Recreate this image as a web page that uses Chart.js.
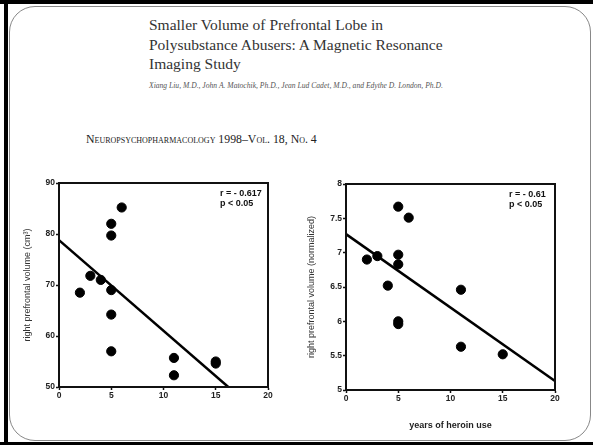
<!DOCTYPE html>
<html>
<head>
<meta charset="utf-8">
<script src="https://cdn.jsdelivr.net/npm/chart.js@4"></script>
<style>
  html, body { margin: 0; padding: 0; background: #fff; }
  #page { position: relative; width: 593px; height: 445px; overflow: hidden; background: #fff; }
  #blackTop { position: absolute; left: 0; top: 0; width: 593px; height: 4px; background: #000; }
  #blackLeft { position: absolute; left: 4px; top: 0; width: 4px; height: 445px; background: #000; }
  #blackBottom { position: absolute; left: 0; top: 442px; width: 593px; height: 3px; background: #000; }
  #panel { position: absolute; left: 9px; top: 6px; width: 580px; height: 433px; border: 1px solid #888; border-radius: 26px; }
  #title { position: absolute; left: 149px; top: 15px; font-family: "Liberation Serif", serif; font-size: 15.5px; line-height: 19.5px; color: #333; }
  #authors { position: absolute; left: 149px; top: 81px; font-family: "Liberation Serif", serif; font-style: italic; font-size: 7.6px; color: #555; }
  #journal { position: absolute; left: 86px; top: 132px; font-family: "Liberation Serif", serif; font-variant: small-caps; font-size: 11.8px; color: #222; }
  canvas { position: absolute; }
</style>
</head>
<body>
<div id="page">
  <div id="blackTop"></div>
  <div id="blackLeft"></div>
  <div id="blackBottom"></div>
  <div id="panel"></div>
  <div id="title">Smaller Volume of Prefrontal Lobe in<br>Polysubstance Abusers: A Magnetic Resonance<br>Imaging Study</div>
  <div id="authors">Xiang Liu, M.D., John A. Matochik, Ph.D., Jean Lud Cadet, M.D., and Edythe D. London, Ph.D.</div>
  <div id="journal">Neuropsychopharmacology 1998–Vol. 18, No. 4</div>
  <div style="position:absolute;left:0;top:170px;width:290px;height:250px;"><canvas id="leftChart"></canvas></div>
  <div style="position:absolute;left:293px;top:170px;width:300px;height:265px;"><canvas id="rightChart"></canvas></div>
</div>
<script>
// years of heroin use (x) for each subject
const leftYears = [2, 3, 4, 5, 5, 5, 5, 5, 6, 11, 11, 15, 15];
const leftVolume = [68.5, 71.8, 71, 82, 79.7, 69, 64.2, 57, 85.2, 55.7, 52.3, 55, 54.6];
const leftFitX = [0, 16.2];
const leftFitY = [78.8, 50];
const leftTicksX = [0, 5, 10, 15, 20];
const leftTicksY = [50, 60, 70, 80, 90];

const rightYears = [2, 3, 4, 5, 5, 5, 5, 5, 6, 11, 11, 15];
const rightVolume = [6.9, 6.95, 6.52, 7.67, 6.97, 6.83, 6.0, 5.96, 7.51, 6.46, 5.63, 5.52];
const rightFitX = [0, 20];
const rightFitY = [7.27, 5.13];
const rightTicksX = [0, 5, 10, 15, 20];
const rightTicksY = [5, 5.5, 6, 6.5, 7, 7.5, 8];

const tickFont = { family: 'Liberation Sans', size: 8.5, weight: 'bold' };

// draws the box around the plot and the r / p note
const boxPlugin = {
    id: 'boxNote',
    afterDraw(chart, args, opts) {
        const ctx = chart.ctx;
        const a = chart.chartArea;
        ctx.save();
        ctx.strokeStyle = '#111';
        ctx.lineWidth = 2;
        ctx.strokeRect(a.left, a.top, a.right - a.left, a.bottom - a.top);
        ctx.fillStyle = '#111';
        ctx.font = 'bold 9px "Liberation Sans"';
        ctx.textAlign = 'left';
        ctx.fillText(opts.r, a.right - opts.dx, a.top + 13);
        ctx.fillText(opts.p, a.right - opts.dx, a.top + 23);
        ctx.restore();
    }
};

function makeChart(id, xs, ys, fitX, fitY, ticksX, ticksY, yLabel, xLabel, pad, yWidth, xHeight, titlePad, note) {
    const ctx = document.getElementById(id).getContext('2d');
    return new Chart(ctx, {
        type: 'scatter',
        data: {
            datasets: [
                {
                    data: xs.map((x, i) => ({ x: x, y: ys[i] })),
                    backgroundColor: '#000',
                    borderColor: '#000',
                    pointRadius: 4.6,
                    pointHoverRadius: 4.6
                },
                {
                    type: 'line',
                    data: fitX.map((x, i) => ({ x: x, y: fitY[i] })),
                    borderColor: '#000',
                    borderWidth: 2.5,
                    pointRadius: 0,
                    fill: false
                }
            ]
        },
        options: {
            responsive: true,
            maintainAspectRatio: false,
            animation: false,
            layout: { padding: pad },
            scales: {
                x: {
                    type: 'linear',
                    min: ticksX[0],
                    max: ticksX[ticksX.length - 1],
                    afterBuildTicks: s => { s.ticks = ticksX.map(v => ({ value: v })); },
                    afterFit: s => { s.height = xHeight; },
                    grid: { drawOnChartArea: false, color: '#111', tickLength: 3, tickWidth: 1.5 },
                    border: { color: '#111', width: 2 },
                    ticks: { color: '#222', font: tickFont, padding: 1, callback: v => String(v) },
                    title: { display: !!xLabel, text: xLabel, color: '#222', font: { family: 'Liberation Sans', size: 9, weight: 'bold' }, padding: { top: 11 } }
                },
                y: {
                    type: 'linear',
                    min: ticksY[0],
                    max: ticksY[ticksY.length - 1],
                    afterBuildTicks: s => { s.ticks = ticksY.map(v => ({ value: v })); },
                    afterFit: s => { s.width = yWidth; },
                    grid: { drawOnChartArea: false, color: '#111', tickLength: 3, tickWidth: 1.5 },
                    border: { color: '#111', width: 2 },
                    ticks: { color: '#222', font: tickFont, padding: 1, callback: v => String(v) },
                    title: { display: true, text: yLabel, color: '#333', font: { family: 'Liberation Sans', size: 9 }, padding: { top: titlePad, bottom: 0 } }
                }
            },
            plugins: {
                legend: { display: false },
                tooltip: { enabled: false },
                boxNote: note
            }
        },
        plugins: [boxPlugin]
    });
}

makeChart('leftChart', leftYears, leftVolume, leftFitX, leftFitY, leftTicksX, leftTicksY,
    'right prefrontal volume (cm³)', '', { left: 10, top: 13, right: 22, bottom: 0 }, 49, 33, 12,
    { r: 'r = - 0.617', p: 'p < 0.05', dx: 48 });
makeChart('rightChart', rightYears, rightVolume, rightFitX, rightFitY, rightTicksX, rightTicksY,
    'right prefrontal volume (normalized)', 'years of heroin use', { left: 10, top: 14, right: 38, bottom: 0 }, 43, 45, 3,
    { r: 'r = - 0.61', p: 'p < 0.05', dx: 46 });
</script>
</body>
</html>
